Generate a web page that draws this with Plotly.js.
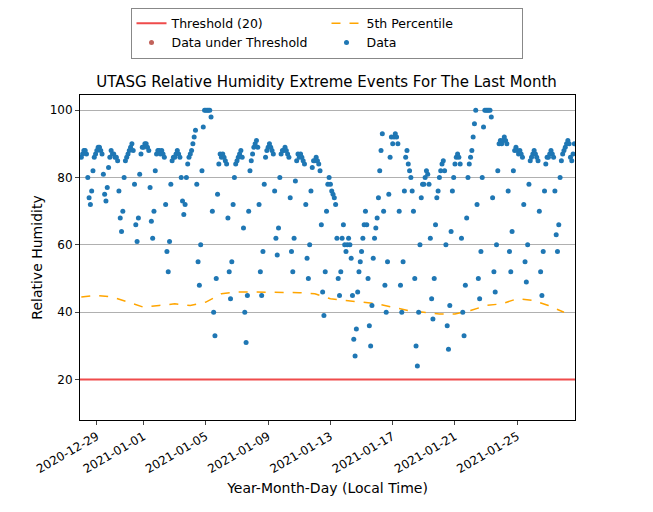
<!DOCTYPE html>
<html>
<head>
<meta charset="utf-8">
<script src="https://cdn.plot.ly/plotly-3.0.1.min.js"></script>
<style>body{margin:0;background:#fff}</style>
</head>
<body>
<div id="chart" style="width:653px;height:512px"></div>
<script>
// relative humidity read every 2 hours, starting 2020-12-28 00:00 (one row per day)
var rhStart = '2020-12-28T00:00:00';
var rh = [
  86,87,88,88,87,80,74,72,76,82,86,87,
  88,89,89,88,87,81,75,73,77,83,86,88,
  87,87,86,86,85,76,68,64,70,80,85,86,
  87,88,89,90,88,78,66,61,68,81,87,89,
  89,90,90,89,88,77,67,62,70,82,87,88,
  88,87,88,87,86,72,58,52,61,78,85,86,
  86,87,88,87,86,80,73,69,72,80,84,86,
  87,88,90,92,94,78,55,48,60,82,95,100,
  100,100,100,100,98,70,40,33,50,75,84,87,
  86,87,86,85,84,68,52,44,55,72,80,84,
  85,86,87,88,86,65,40,31,45,70,82,85,
  87,89,90,91,89,72,52,45,58,78,86,88,
  89,90,89,88,87,76,62,57,65,80,87,88,
  88,89,88,87,86,74,58,52,62,79,85,87,
  86,87,86,85,84,72,56,50,60,76,83,85,
  85,86,85,84,82,66,46,39,52,70,78,80,
  78,76,75,74,72,62,50,45,52,62,66,60,
  58,60,62,60,56,45,32,27,35,46,52,55,
  58,62,66,70,66,50,36,30,42,56,62,65,
  68,74,82,88,93,70,48,40,55,75,86,92,
  90,92,93,92,90,70,48,40,55,76,86,88,
  84,82,80,76,70,50,30,24,40,60,74,78,
  78,80,82,81,78,62,44,38,50,66,74,76,
  80,82,84,85,82,60,36,29,42,64,76,80,
  84,86,87,86,84,62,40,33,48,68,80,84,
  86,88,92,96,100,72,50,44,58,80,95,100,
  100,100,100,100,98,74,52,46,60,82,90,91,
  90,91,92,91,90,76,58,52,64,82,88,89,
  88,87,88,87,86,72,55,49,60,78,85,86,
  87,88,87,86,85,70,52,45,58,76,84,86,
  86,87,88,87,86,76,63,58,66,80,85,87,
  88,89,90,91,90,86,85,87,90
];

// daily 5th percentile
var pctDays = ['2020-12-28','2020-12-29','2020-12-30','2020-12-31','2021-01-01','2021-01-02',
  '2021-01-03','2021-01-04','2021-01-05','2021-01-06','2021-01-07','2021-01-08','2021-01-09',
  '2021-01-10','2021-01-11','2021-01-12','2021-01-13','2021-01-14','2021-01-15','2021-01-16',
  '2021-01-17','2021-01-18','2021-01-19','2021-01-20','2021-01-21','2021-01-22','2021-01-23',
  '2021-01-24','2021-01-25','2021-01-26','2021-01-27','2021-01-28'];
var pct5 = [44.5,45,44.5,43,41.5,42,42.5,42,43,45.5,46,46,46,46,45.8,45.5,44,43.5,43,42.5,
  41.5,40.5,40,39.5,39.5,40.5,42,42.5,44,43.5,42,40];

var threshold = 20;
var xRange = ['2020-12-27 22:00', '2021-01-28 17:00'];
var tickVals = ['2020-12-29','2021-01-01','2021-01-05','2021-01-09','2021-01-13',
  '2021-01-17','2021-01-21','2021-01-25'];

var t0 = new Date(rhStart + 'Z').getTime();
var rhTimes = rh.map(function (v, i) {
  return new Date(t0 + i * 2 * 3600 * 1000).toISOString().slice(0, 16).replace('T', ' ');
});
var underX = [], underY = [];
rh.forEach(function (v, i) { if (v < threshold) { underX.push(rhTimes[i]); underY.push(v); } });
// no point is under the threshold; keep the legend entry with an off-axis placeholder
if (underY.length === 0) { underX = [xRange[0]]; underY = [-100]; }

var data = [
  {x: xRange, y: [threshold, threshold], mode: 'lines', name: 'Threshold (20)',
   line: {color: '#ef4b4b', width: 2}},
  {x: pctDays, y: pct5, mode: 'lines', name: '5th Percentile',
   line: {color: 'orange', width: 1.5, dash: 'dash'}},
  {x: underX, y: underY, mode: 'markers', name: 'Data under Threshold',
   marker: {color: '#c1625a', size: 5}},
  {x: rhTimes, y: rh, mode: 'markers', name: 'Data',
   marker: {color: '#1f77b4', size: 5}}
];

var layout = {
  width: 653, height: 512,
  margin: {l: 80, r: 78, t: 95, b: 92},
  paper_bgcolor: '#fff', plot_bgcolor: '#fff',
  font: {family: 'DejaVu Sans', size: 12, color: '#000'},
  title: {text: 'UTASG Relative Humidity Extreme Events For The Last Month',
    font: {size: 15}, x: 0.5, xanchor: 'center', y: 0.84, yanchor: 'middle'},
  showlegend: true,
  legend: {orientation: 'h', xref: 'container', yref: 'container',
    x: 0.5, xanchor: 'center', y: 0.985, yanchor: 'top', traceorder: 'normal',
    entrywidth: 150, bordercolor: '#888', borderwidth: 1, font: {size: 12.5}},
  xaxis: {type: 'date', range: xRange, tickvals: tickVals, tickformat: '%Y-%m-%d',
    tickangle: -30, showgrid: false, showline: true, mirror: true, linecolor: '#000',
    ticks: 'outside', ticklen: 4, zeroline: false,
    title: {text: 'Year-Month-Day (Local Time)', standoff: 8}},
  yaxis: {range: [8, 104.5], tickvals: [20, 40, 60, 80, 100], showgrid: true,
    gridcolor: '#b0b0b0', showline: true, mirror: true, linecolor: '#000',
    ticks: 'outside', ticklen: 4, zeroline: false,
    title: {text: 'Relative Humidity'}}
};

Plotly.newPlot('chart', data, layout, {displayModeBar: false});
</script>
</body>
</html>
